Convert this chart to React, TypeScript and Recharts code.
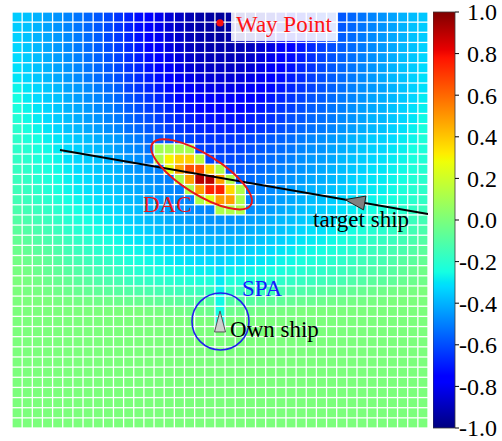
import React from 'react';
import { ScatterChart, Scatter, XAxis, YAxis, BarChart, Bar } from 'recharts';

const SERIF = "'Liberation Serif', 'Times New Roman', serif";

// potential field, value x100, one array per grid row from top to bottom (41 x 41 cells)
const row00 = [-35,-37,-40,-43,-46,-49,-52,-55,-58,-61,-65,-69,-73,-77,-81,-85,-88,-91,-93,-94,-95,-94,-93,-91,-88,-85,-81,-77,-73,-69,-65,-61,-58,-55,-52,-49,-46,-43,-40,-38,-36];
const row01 = [-35,-37,-40,-43,-46,-49,-52,-55,-58,-61,-65,-69,-73,-77,-81,-85,-88,-91,-93,-94,-95,-94,-93,-91,-88,-85,-81,-77,-73,-69,-65,-61,-58,-55,-52,-49,-46,-43,-40,-37,-35];
const row02 = [-34,-37,-40,-42,-45,-48,-51,-54,-57,-61,-64,-68,-72,-76,-80,-84,-87,-90,-92,-93,-94,-93,-92,-90,-87,-84,-80,-76,-72,-68,-64,-61,-57,-54,-51,-48,-45,-42,-40,-37,-35];
const row03 = [-33,-36,-39,-42,-45,-48,-51,-54,-57,-60,-63,-67,-71,-75,-79,-83,-86,-89,-91,-92,-92,-92,-91,-89,-86,-83,-79,-75,-71,-67,-63,-60,-57,-54,-51,-48,-45,-42,-39,-37,-34];
const row04 = [-32,-35,-38,-41,-44,-47,-50,-53,-56,-59,-62,-66,-70,-73,-77,-81,-84,-87,-89,-90,-90,-90,-89,-87,-84,-81,-77,-73,-70,-66,-62,-59,-56,-53,-50,-47,-44,-41,-38,-36,-33];
const row05 = [-31,-34,-37,-40,-43,-46,-49,-52,-55,-58,-61,-65,-68,-72,-75,-79,-82,-85,-87,-88,-88,-88,-87,-85,-82,-79,-75,-72,-68,-65,-61,-58,-55,-52,-49,-46,-43,-40,-37,-35,-32];
const row06 = [-30,-33,-36,-39,-42,-45,-48,-51,-54,-57,-60,-63,-67,-70,-73,-77,-80,-82,-84,-85,-85,-85,-84,-82,-80,-77,-73,-70,-67,-63,-60,-57,-54,-51,-48,-45,-42,-39,-37,-34,-31];
const row07 = [-27,-30,-33,-36,-39,-43,-45,-48,-51,-54,-57,-62,-65,-68,-71,-74,-77,-79,-81,-82,-82,-82,-81,-79,-77,-74,-71,-68,-65,-62,-59,-56,-53,-50,-47,-45,-43,-40,-37,-34,-31];
const row08 = [-25,-29,-32,-35,-37,-41,-44,-47,-49,-52,-55,-59,-62,-65,-68,-71,-74,-76,-78,-79,-79,-79,-78,-76,-74,-71,-68,-65,-62,-59,-57,-54,-51,-49,-46,-43,-41,-39,-36,-33,-29];
const row09 = [-24,-27,-30,-33,-36,-40,-42,-45,-48,-50,-53,-57,-60,-63,-65,-68,-71,-73,-75,-76,-76,-76,-75,-73,-71,-68,-65,-63,-60,-57,-55,-52,-50,-47,-44,-42,-40,-37,-34,-31,-28];
const row10 = [-22,-26,-29,-32,-35,-38,-41,-44,-46,-49,-51,-55,-58,-60,-63,-66,-68,-70,-72,-72,-73,-72,-72,-70,-68,-66,-63,-60,-58,-55,-53,-51,-48,-46,-43,-40,-39,-36,-33,-30,-26];
const row11 = [-20,-24,-27,-30,-33,-37,-39,-42,-44,-47,-49,-53,-55,-58,-60,-63,-65,-67,-68,-69,-69,-69,-68,-67,-65,-63,-60,-58,-55,-53,-51,-49,-46,-44,-41,-39,-37,-34,-31,-28,-24];
const row12 = [-19,-23,-25,-28,-30,-33,-36,-38,-41,-43,-45,-49,-51,-54,-56,-58,-60,-62,-64,-65,-65,-65,-64,-62,-60,-58,-56,-54,-51,-49,-47,-45,-43,-40,-38,-35,-34,-32,-29,-27,-23];
const row13 = [-19,-21,-24,-26,-29,-32,-34,-37,-39,-41,-44,-47,-49,-52,10,10,10,10,-62,-63,-63,-63,-62,-60,-58,-56,-54,-52,-49,-47,-46,-43,-41,-39,-36,-34,-33,-30,-28,-25,-23];
const row14 = [-18,-20,-23,-25,-27,-31,-33,-35,-37,-40,-42,-45,-47,-50,12,30,38,38,15,-61,-61,-61,-60,-58,-56,-54,-52,-50,-47,-45,-44,-42,-39,-37,-35,-33,-31,-29,-27,-24,-22];
const row15 = [-17,-19,-22,-24,-26,-29,-32,-34,-36,-38,-40,-44,-46,-48,-50,25,48,65,65,38,12,-58,-58,-56,-54,-52,-50,-48,-46,-44,-42,-40,-38,-36,-34,-31,-30,-28,-26,-23,-21];
const row16 = [-16,-18,-21,-23,-25,-28,-30,-32,-35,-37,-39,-42,-44,-46,-48,-50,12,48,90,90,48,12,-55,-54,-52,-50,-48,-46,-44,-42,-41,-39,-37,-34,-32,-30,-29,-27,-25,-22,-20];
const row17 = [-15,-17,-19,-22,-24,-27,-29,-31,-33,-35,-37,-40,-42,-44,-46,-48,-50,12,48,75,75,36,12,-52,-50,-48,-46,-44,-42,-40,-39,-37,-35,-33,-31,-29,-28,-26,-23,-21,-19];
const row18 = [-14,-16,-18,-20,-22,-25,-27,-29,-31,-33,-35,-38,-40,-42,-44,-46,-48,-49,12,25,48,48,12,-49,-48,-46,-44,-42,-40,-38,-37,-35,-33,-31,-29,-27,-26,-24,-22,-20,-18];
const row19 = [-12,-14,-16,-18,-20,-23,-25,-27,-29,-31,-33,-36,-38,-40,-42,-44,-45,-47,-48,-49,12,12,12,-47,-45,-44,-42,-40,-38,-36,-35,-33,-31,-29,-27,-25,-24,-22,-20,-18,-16];
const row20 = [-10,-12,-14,-16,-18,-21,-23,-25,-27,-29,-31,-34,-36,-38,-39,-41,-43,-44,-45,-46,-46,-46,-45,-44,-43,-41,-39,-38,-36,-34,-33,-31,-29,-27,-25,-23,-22,-20,-18,-16,-14];
const row21 = [-8,-10,-12,-14,-16,-19,-21,-23,-25,-27,-29,-31,-33,-35,-37,-38,-40,-41,-42,-43,-43,-43,-42,-41,-40,-38,-37,-35,-33,-31,-31,-29,-27,-25,-23,-21,-20,-18,-16,-14,-12];
const row22 = [-6,-8,-10,-12,-13,-16,-18,-20,-22,-24,-26,-29,-30,-32,-34,-35,-37,-38,-39,-39,-40,-39,-39,-38,-37,-35,-34,-32,-30,-29,-28,-26,-24,-22,-20,-18,-17,-16,-14,-12,-10];
const row23 = [-4,-6,-8,-9,-11,-14,-16,-18,-20,-21,-23,-26,-27,-29,-30,-32,-33,-34,-35,-36,-37,-36,-35,-34,-33,-32,-30,-29,-27,-26,-25,-23,-22,-20,-18,-16,-15,-13,-12,-10,-8];
const row24 = [-2,-4,-5,-7,-9,-12,-13,-15,-17,-18,-20,-23,-24,-26,-27,-29,-30,-31,-32,-32,-34,-32,-32,-31,-30,-29,-27,-26,-24,-23,-22,-20,-19,-17,-15,-14,-13,-11,-9,-8,-6];
const row25 = [-1,-2,-4,-6,-7,-9,-10,-12,-14,-15,-17,-19,-21,-22,-24,-25,-26,-27,-28,-28,-31,-28,-28,-27,-26,-25,-24,-22,-21,-19,-19,-17,-16,-14,-12,-11,-10,-9,-7,-5,-3];
const row26 = [0,-1,-2,-4,-5,-6,-8,-9,-11,-12,-13,-16,-17,-18,-19,-20,-21,-22,-23,-23,-29,-23,-23,-22,-21,-20,-19,-18,-17,-16,-15,-14,-13,-11,-10,-8,-8,-7,-5,-4,-3];
const row27 = [0,-1,-1,-2,-3,-4,-5,-6,-7,-8,-9,-10,-11,-12,-13,-14,-15,-15,-16,-17,-27,-17,-16,-15,-15,-14,-13,-12,-11,-10,-9,-8,-7,-6,-5,-4,-3,-2,-1,-1,0];
const row28 = [0,0,0,0,-1,-1,-2,-2,-3,-3,-4,-5,-5,-6,-7,-7,-8,-9,-9,-10,-26,-10,-9,-9,-8,-7,-7,-6,-5,-5,-4,-3,-3,-2,-2,-1,-1,0,0,0,0];
const row29 = [0,0,0,0,0,0,0,0,0,0,0,0,0,-1,-1,-2,-2,-3,-3,-4,-25,-4,-3,-3,-2,-2,-1,-1,0,0,0,0,0,0,0,0,0,0,0,0,0];
const row30 = [0,0,0,0,0,0,0,0,0,0,0,0,0,0,0,0,0,0,0,0,-24,0,0,0,0,0,0,0,0,0,0,0,0,0,0,0,0,0,0,0,0];
const calmRow = [0,0,0,0,0,0,0,0,0,0,0,0,0,0,0,0,0,0,0,0,0,0,0,0,0,0,0,0,0,0,0,0,0,0,0,0,0,0,0,0,0];

const heatRows = [
  row00, row01, row02, row03, row04, row05, row06, row07, row08, row09,
  row10, row11, row12, row13, row14, row15, row16, row17, row18, row19,
  row20, row21, row22, row23, row24, row25, row26, row27, row28, row29,
  row30, calmRow, calmRow, calmRow, calmRow, calmRow, calmRow, calmRow, calmRow, calmRow, calmRow,
];

// overlays, in grid units (cell index, y down)
const wayPoint = [{ x: 20, y: 0.58 }];
const targetTrack = [{ x: 4.23, y: 13.1 }, { x: 40.5, y: 19.41 }];
const targetHead = [{ x: 32.32, y: 17.99 }];
const dacZone = [{ x: 18.18, y: 15.5 }];
const ownShip = [{ x: 20, y: 30 }];
const labels = [
  { x: 21.58, y: 1.47, text: 'Way Point', color: '#ff1414', box: true },
  { x: 12.41, y: 19.21, text: 'DAC', color: '#e8161c' },
  { x: 29.17, y: 20.69, text: 'target ship', color: '#000' },
  { x: 22.17, y: 27.49, text: 'SPA', color: '#1a1aff' },
  { x: 20.99, y: 31.58, text: 'Own ship', color: '#000' },
];

const cbTicks = [-1, -0.8, -0.6, -0.4, -0.2, 0, 0.2, 0.4, 0.6, 0.8, 1];
const cbData = [{ name: 'cb', span: [-1, 1] }];

// matplotlib jet
type Seg = [number, number][];
const RED: Seg = [[0, 0], [0.35, 0], [0.66, 1], [0.89, 1], [1, 0.5]];
const GREEN: Seg = [[0, 0], [0.125, 0], [0.375, 1], [0.64, 1], [0.91, 0], [1, 0]];
const BLUE: Seg = [[0, 0.5], [0.11, 1], [0.34, 1], [0.65, 0], [1, 0]];
const JET_STOPS = [0, 0.11, 0.125, 0.34, 0.35, 0.375, 0.64, 0.65, 0.66, 0.89, 0.91, 1];

function segAt(seg: Seg, t: number) {
  for (let i = 1; i < seg.length; i++) {
    if (t <= seg[i][0]) {
      const [t0, v0] = seg[i - 1];
      const [t1, v1] = seg[i];
      return v0 + ((v1 - v0) * (t - t0)) / (t1 - t0);
    }
  }
  return seg[seg.length - 1][1];
}

function jetAt(t: number) {
  const c = Math.max(0, Math.min(1, t));
  const r = Math.round(255 * segAt(RED, c));
  const g = Math.round(255 * segAt(GREEN, c));
  const b = Math.round(255 * segAt(BLUE, c));
  return `rgb(${r},${g},${b})`;
}

const valueColor = (v: number) => jetAt((v + 1) / 2);

const cells = heatRows.flatMap((row, r) => row.map((v, c) => ({ x: c, y: r, v: v / 100 })));

const CELL = 416 / 41;

const HeatCell = (props: any) => {
  const { cx, cy, payload } = props;
  const s = CELL - 1.3;
  return <rect x={cx - s / 2} y={cy - s / 2} width={s} height={s} fill={valueColor(payload.v)} />;
};

const LabelText = (props: any) => {
  const { cx, cy, payload } = props;
  return (
    <g>
      {payload.box && <rect x={cx - 5} y={cy - 20} width={107} height={29} fill="#fff" fillOpacity={0.88} />}
      <text x={cx} y={cy} fill={payload.color} fontSize={23} fontFamily={SERIF} style={{ fontFamily: SERIF }}>
        {payload.text}
      </text>
    </g>
  );
};

const WayDot = ({ cx, cy }: any) => <circle cx={cx} cy={cy} r={3.6} fill="#ff1010" />;

const DacShape = ({ cx, cy }: any) => (
  <ellipse
    cx={cx}
    cy={cy}
    rx={58}
    ry={20}
    transform={`rotate(32 ${cx} ${cy})`}
    fill="none"
    stroke="#e8161c"
    strokeWidth={2}
  />
);

const HeadShape = ({ cx, cy }: any) => (
  <polygon
    points={`${cx},${cy} ${cx + 20.9},${cy - 3.5} ${cx + 18.5},${cy + 10.3}`}
    fill="#808080"
    stroke="#222"
    strokeWidth={1}
  />
);

const OwnShipShape = ({ cx, cy }: any) => (
  <g>
    <circle cx={cx + 0.5} cy={cy} r={28.5} fill="none" stroke="#2222ee" strokeWidth={1.6} />
    <polygon
      points={`${cx},${cy - 10.5} ${cx - 5.5},${cy + 10.5} ${cx + 5.5},${cy + 10.5}`}
      fill="#cfcfcf"
      stroke="#555"
      strokeWidth={1}
    />
  </g>
);

const Empty = () => <g />;

const CbTick = (props: any) => {
  const { y, payload } = props;
  return (
    <text
      x={64}
      y={y}
      dy="0.35em"
      textAnchor="end"
      fontSize={24}
      fontFamily={SERIF}
      style={{ fontFamily: SERIF }}
      fill="#000"
    >
      {Number(payload.value).toFixed(1)}
    </text>
  );
};

export default function App() {
  return (
    <div style={{ position: 'absolute', left: 0, top: 0, width: 502, height: 441, background: '#fff' }}>
      <div style={{ position: 'absolute', left: 0, top: 0 }}>
        <ScatterChart width={433} height={441} margin={{ top: 12, right: 5, bottom: 13, left: 12 }}>
          <XAxis type="number" dataKey="x" domain={[-0.5, 40.5]} allowDataOverflow hide />
          <YAxis type="number" dataKey="y" domain={[-0.5, 40.5]} allowDataOverflow reversed hide />
          <Scatter data={cells} shape={HeatCell} isAnimationActive={false} />
          <Scatter data={targetTrack} shape={Empty} line={{ stroke: '#000', strokeWidth: 1.8 }} isAnimationActive={false} />
          <Scatter data={targetHead} shape={HeadShape} isAnimationActive={false} />
          <Scatter data={dacZone} shape={DacShape} isAnimationActive={false} />
          <Scatter data={ownShip} shape={OwnShipShape} isAnimationActive={false} />
          <Scatter data={labels} shape={LabelText} isAnimationActive={false} />
          <Scatter data={wayPoint} shape={WayDot} isAnimationActive={false} />
        </ScatterChart>
      </div>
      <div style={{ position: 'absolute', left: 433, top: 0 }}>
        <BarChart width={69} height={441} data={cbData} margin={{ top: 12, right: 0, bottom: 13, left: 0 }} barCategoryGap={0}>
          <defs>
            <linearGradient id="jetBar" x1="0" y1="1" x2="0" y2="0">
              {JET_STOPS.map((t) => (
                <stop key={t} offset={t} stopColor={jetAt(t)} />
              ))}
            </linearGradient>
          </defs>
          <XAxis dataKey="name" hide />
          <YAxis
            orientation="right"
            type="number"
            domain={[-1, 1]}
            ticks={cbTicks}
            interval={0}
            width={47}
            axisLine={false}
            tickLine={{ stroke: '#000' }}
            tickSize={4}
            tick={<CbTick />}
          />
          <Bar dataKey="span" fill="url(#jetBar)" stroke="#3a3a3a" strokeWidth={0.8} isAnimationActive={false} />
        </BarChart>
      </div>
    </div>
  );
}
